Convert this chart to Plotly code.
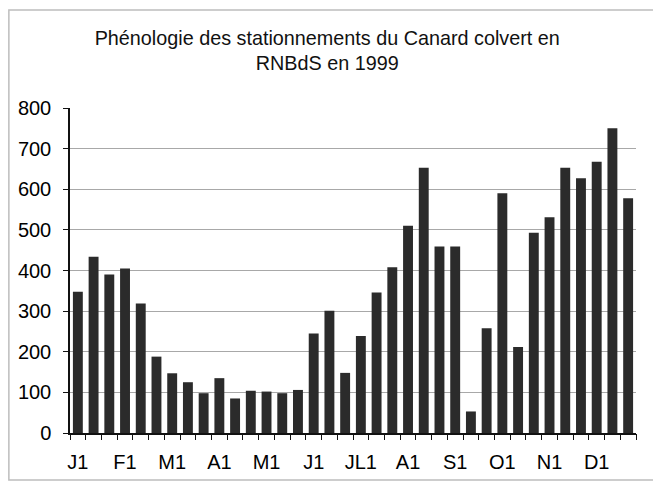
import plotly.graph_objects as go

# decades (3 per month) of 1999
month_labels = ["J1", "F1", "M1", "A1", "M1", "J1", "JL1", "A1", "S1", "O1", "N1", "D1"]
counts = [348, 434, 390, 405, 319, 188, 147, 125, 98,
          135, 85, 104, 102, 98, 106, 245, 301, 148,
          239, 346, 408, 510, 653, 459, 459, 53, 258,
          590, 212, 493, 531, 653, 627, 668, 750, 578]
y_ticks = [0, 100, 200, 300, 400, 500, 600, 700, 800]
grid_vals = [100, 200, 300, 400, 500, 600, 700]

font_family = "Arial, Liberation Sans, sans-serif"
n = len(counts)
x = list(range(n))

fig = go.Figure()
# invisible trace to carry the boundary-tick and grid axes
fig.add_trace(go.Scatter(x=[-0.5, n - 0.5], y=[0, 0], xaxis="x2", yaxis="y2",
                         mode="lines", line_width=0, showlegend=False, hoverinfo="skip"))
fig.add_trace(go.Bar(x=x, y=counts, marker_color="#2b2b2b", marker_line_width=0,
                     showlegend=False))

fig.update_layout(
    width=661, height=482,
    margin=dict(l=62, r=33, t=100, b=57),
    paper_bgcolor="white", plot_bgcolor="white",
    bargap=0.37,
    font=dict(family=font_family, color="#000000"),
    title=dict(text="Phénologie des stationnements du Canard colvert en<br>RNBdS en 1999",
               x=0.483, xanchor="center", y=0.924, yanchor="middle",
               font=dict(size=19.8, color="#111111")),
    xaxis=dict(range=[-0.5, n - 0.5], tickvals=x[::3], ticktext=month_labels,
               ticks="", showgrid=False, showline=True, linecolor="#111111", linewidth=1.5,
               tickfont=dict(size=20), ticklabelstandoff=10, zeroline=False,
               automargin=False),
    yaxis=dict(range=[0, 800], tickvals=y_ticks, ticks="outside", ticklen=5,
               tickcolor="#111111", showgrid=False, showline=True,
               linecolor="#111111", linewidth=1.5, tickfont=dict(size=20),
               ticklabelstandoff=8, zeroline=False, automargin=False),
    xaxis2=dict(overlaying="x", range=[-0.5, n - 0.5], anchor="y",
                tickvals=[i - 0.5 for i in range(n + 1)], ticks="outside", ticklen=6,
                tickcolor="#111111", showticklabels=False, showgrid=False,
                showline=False, zeroline=False, side="bottom", automargin=False),
    yaxis2=dict(overlaying="y", range=[0, 800], tickvals=grid_vals, showgrid=True,
                gridcolor="#a8a8a8", gridwidth=1.2, showticklabels=False, ticks="",
                showline=False, zeroline=False, anchor="x", automargin=False),
    shapes=[dict(type="rect", xref="paper", yref="paper",
                 x0=-0.108, x1=1.1, y0=-0.1446, y1=1.3015,
                 line=dict(color="#bdbdbd", width=1.5), layer="below")],
)

fig.write_html("out.html")
